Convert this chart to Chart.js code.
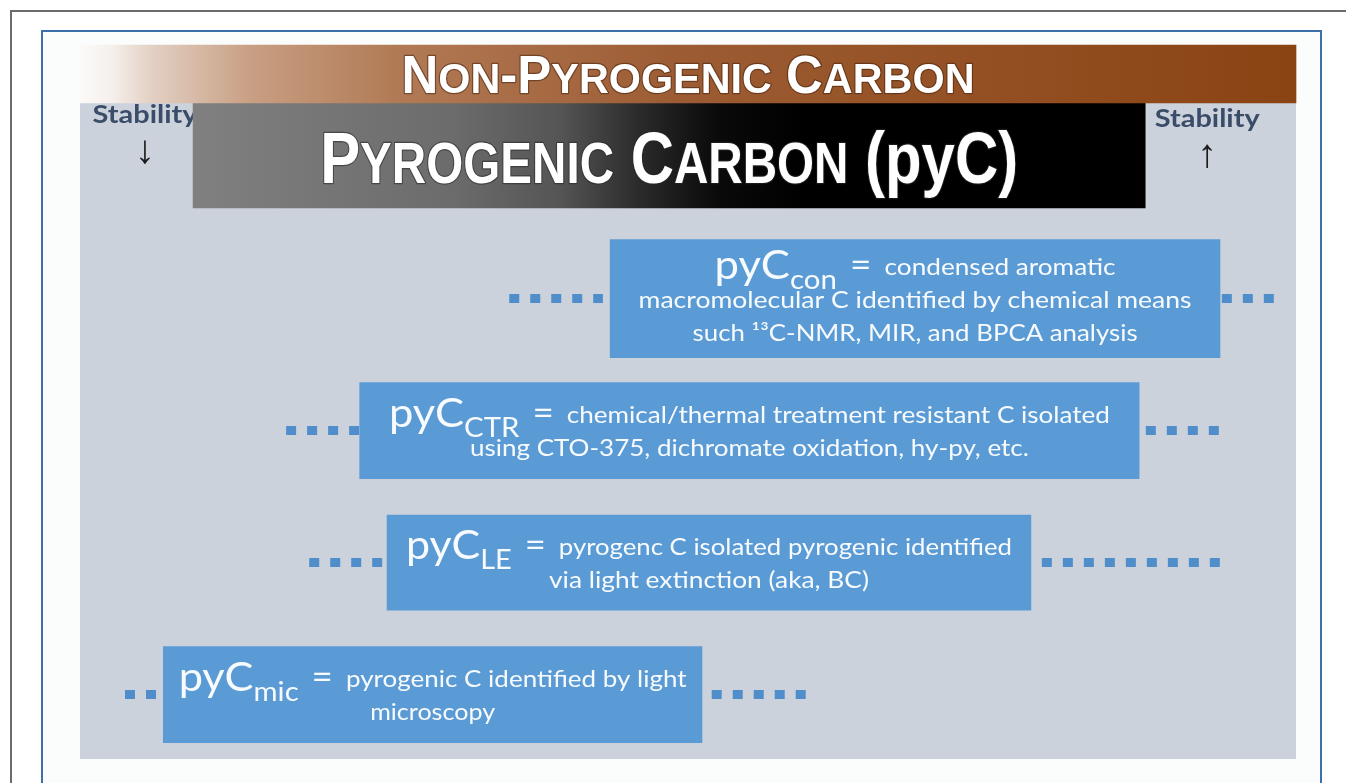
<!DOCTYPE html>
<html>
<head>
<meta charset="utf-8">
<title>Pyrogenic carbon continuum</title>
<script src="https://cdn.jsdelivr.net/npm/chart.js@4.4.1/dist/chart.umd.min.js"></script>
<style>
  html, body { margin: 0; padding: 0; background: #fff; }
  body { width: 1346px; height: 783px; overflow: hidden; position: relative; }
  .outer { position: absolute; left: 10px; top: 10px; width: 1400px; height: 800px;
           border-left: 2px solid #6b6b6b; border-top: 2px solid #6b6b6b; }
  .frame { position: absolute; left: 41px; top: 30px; width: 1277px; height: 800px;
           border: 2px solid #3d6fa9; background: #fbfdfd; }
  .panel { position: absolute; left: 80px; top: 45px; width: 1216px; height: 714px; background: #cbd2dc; }
  canvas { position: absolute; left: 0; top: 0; }
</style>
</head>
<body>
<div class="outer"></div>
<div class="frame"></div>
<div class="panel"></div>
<canvas id="head" width="1346" height="783"></canvas>
<canvas id="body" width="1346" height="783"></canvas>
<script>
// x axis = relative stability, 0 (least) .. 100 (most)
const bandLabels = ['Non-Pyrogenic Carbon', 'Pyrogenic Carbon (pyC)'];
const bandStart = [0, 9.3];
const bandEnd = [100, 87.6];

const formLabels = ['pyC_con', 'pyC_CTR', 'pyC_LE', 'pyC_mic'];
const formSub = ['con', 'CTR', 'LE', 'mic'];
const formStart = [43.6, 23.0, 25.25, 6.85];
const formEnd = [93.75, 87.1, 78.2, 51.15];
const formText = [
  ['condensed aromatic', 'macromolecular C identified by chemical means', 'such \u00b9\u00b3C-NMR, MIR, and BPCA analysis'],
  ['chemical/thermal treatment resistant C isolated', 'using CTO-375, dichromate oxidation, hy-py, etc.'],
  ['pyrogenc C isolated pyrogenic identified', 'via light extinction (aka, BC)'],
  ['pyrogenic C identified by light', 'microscopy']
];

// dotted extensions left and right of each box
const dotsLeftStart = [35.3, 16.95, 18.85, 3.7];
const dotsLeftEnd = [43.0, 22.95, 24.85, 6.25];
const dotsRightStart = [93.9, 87.65, 79.1, 51.95];
const dotsRightEnd = [98.2, 93.65, 93.75, 59.7];

const stabilityLabels = ['Stability', 'Stability'];
const stabilityArrows = ['\u2193', '\u2191'];
const stabilityAt = [5.35, 92.7];

// styling
const bandThickness = [58, 105];
const formThickness = [118, 96, 95, 96];
const lineWidths = [[401, 553, 445], [721, 559], [606, 320], [508, 125]];
const titleWidths = [573, 698];
const boxBlue = '#5b9bd5';
const dotBlue = '#4f8dcb';
const textFont = 'Lato, "Open Sans", sans-serif';
const titleFont = '"Liberation Sans Narrow", "Liberation Sans", Arial, sans-serif';

function drawRuns(ctx, runs, cx, baseline, width, family, color, stroke) {
  ctx.save();
  let total = 0;
  runs.forEach(r => {
    ctx.font = `${r.weight || 'normal'} ${r.size}px ${family}`;
    r.w = ctx.measureText(r.t).width;
    total += r.w + (r.padL || 0) + (r.padR || 0);
  });
  const sx = width / total;
  ctx.translate(cx - width / 2, baseline);
  ctx.scale(sx, 1);
  ctx.textAlign = 'left';
  ctx.textBaseline = 'alphabetic';
  let x = 0;
  runs.forEach(r => {
    x += r.padL || 0;
    ctx.font = `${r.weight || 'normal'} ${r.size}px ${family}`;
    if (stroke) {
      ctx.lineJoin = 'round';
      ctx.lineWidth = 2.5;
      ctx.strokeStyle = stroke;
      ctx.strokeText(r.t, x, r.dy || 0);
    }
    ctx.fillStyle = color;
    ctx.fillText(r.t, x, r.dy || 0);
    x += r.w + (r.padR || 0);
  });
  ctx.restore();
}

// small caps: lowercase letters drawn as smaller capitals; text in brackets kept as is
function smallCaps(text, big, small) {
  const runs = [];
  const cut = text.indexOf('(');
  const head = cut >= 0 ? text.slice(0, cut) : text;
  for (const ch of head) {
    const isSmall = ch !== ch.toUpperCase();
    const size = isSmall ? small : big;
    const last = runs[runs.length - 1];
    if (last && last.size === size) last.t += ch.toUpperCase();
    else runs.push({ t: ch.toUpperCase(), size, weight: 'bold' });
  }
  if (cut >= 0) runs.push({ t: text.slice(cut), size: big, weight: 'bold' });
  return runs;
}

function bandGradient(c, i) {
  const chart = c.chart;
  if (!chart.chartArea) return i === 0 ? '#9a5a30' : '#333';
  const xs = chart.scales.x;
  const g = chart.ctx.createLinearGradient(xs.getPixelForValue(bandStart[i]), 0, xs.getPixelForValue(bandEnd[i]), 0);
  if (i === 0) {
    g.addColorStop(0, '#fbfaf9');
    g.addColorStop(0.025, '#f6f0ec');
    g.addColorStop(0.06, '#e2cfc2');
    g.addColorStop(0.14, '#c89f83');
    g.addColorStop(0.26, '#b17a55');
    g.addColorStop(0.5, '#9c5b32');
    g.addColorStop(0.76, '#934f22');
    g.addColorStop(1, '#8a4313');
  } else {
    g.addColorStop(0, '#808080');
    g.addColorStop(0.27, '#6c6c6c');
    g.addColorStop(0.385, '#555555');
    g.addColorStop(0.47, '#2a2a2a');
    g.addColorStop(0.55, '#0a0a0a');
    g.addColorStop(0.64, '#000000');
    g.addColorStop(1, '#000000');
  }
  return g;
}

/* ===== header: the two carbon bands ===== */
const headPlugin = {
  id: 'headText',
  beforeDatasetsDraw(chart) {
    const ctx = chart.ctx;
    const xs = chart.scales.x;
    const yPyc = chart.scales.y.getPixelForValue(1);
    const labelDy = [-33, -29];
    const arrowDy = [-4, 0];
    stabilityLabels.forEach((lab, i) => {
      const cx = xs.getPixelForValue(stabilityAt[i]);
      drawRuns(ctx, [{ t: lab, size: 25, weight: 'bold' }], cx, yPyc + labelDy[i], 105, textFont, '#3b4c69');
      ctx.save();
      ctx.font = '40px "Liberation Sans", "DejaVu Sans", sans-serif';
      ctx.fillStyle = '#1c1c1c';
      ctx.textAlign = 'center';
      ctx.textBaseline = 'middle';
      ctx.fillText(stabilityArrows[i], cx, yPyc + arrowDy[i]);
      ctx.restore();
    });
  },
  afterDatasetsDraw(chart) {
    const ctx = chart.ctx;
    const sizes = [[53, 43], [73, 58]];
    const dy = [19, 27.5];
    const strokes = ['rgba(70,35,15,0.55)', 'rgba(40,40,40,0.6)'];
    bandLabels.forEach((name, i) => {
      const bar = chart.getDatasetMeta(i).data[i];
      const { x, base, y } = bar.getProps(['x', 'base', 'y'], true);
      const runs = smallCaps(name, sizes[i][0], sizes[i][1]);
      drawRuns(ctx, runs, (x + base) / 2, y + dy[i], titleWidths[i], titleFont, '#ffffff', strokes[i]);
    });
  }
};

new Chart(document.getElementById('head'), {
  type: 'bar',
  data: {
    labels: bandLabels,
    datasets: bandLabels.map((name, i) => ({
      label: name,
      data: bandLabels.map((_, j) => (j === i ? [bandStart[i], bandEnd[i]] : null)),
      backgroundColor: c => bandGradient(c, i),
      borderWidth: 0,
      barThickness: bandThickness[i],
      grouped: false,
      clip: false
    }))
  },
  options: {
    indexAxis: 'y',
    responsive: false,
    animation: false,
    layout: { padding: { left: 80, right: 50, top: 33.25, bottom: 586.75 } },
    scales: {
      x: { type: 'linear', min: 0, max: 100, display: false },
      y: { type: 'category', display: false }
    },
    plugins: { legend: { display: false }, tooltip: { enabled: false } }
  },
  plugins: [headPlugin]
});

/* ===== body: the four pyC forms ===== */
const bodyDatasets = formLabels.map((name, i) => ({
  label: name,
  data: formLabels.map((_, j) => (j === i ? [formStart[i], formEnd[i]] : null)),
  backgroundColor: boxBlue,
  borderWidth: 0,
  barThickness: formThickness[i],
  grouped: false,
  clip: false,
  order: 1
}));

formLabels.forEach((name, i) => {
  [[dotsLeftStart[i], dotsLeftEnd[i]], [dotsRightStart[i], dotsRightEnd[i]]].forEach(([a, b]) => {
    bodyDatasets.push({
      type: 'line',
      indexAxis: 'y',
      label: name + ' dots',
      data: [{ x: a, y: name }, { x: b, y: name }],
      borderColor: dotBlue,
      borderWidth: 9,
      borderDash: [10, 11],
      borderCapStyle: 'butt',
      pointRadius: 0,
      fill: false,
      order: 2
    });
  });
});

const formTextPlugin = {
  id: 'formText',
  afterDatasetsDraw(chart) {
    const ctx = chart.ctx;
    formLabels.forEach((name, i) => {
      const bar = chart.getDatasetMeta(i).data[i];
      const { x, base, y } = bar.getProps(['x', 'base', 'y'], true);
      const cx = (x + base) / 2;
      const lines = formText[i];
      const n = lines.length;
      lines.forEach((txt, k) => {
        const baseline = y + 9 + (k - (n - 1) / 2) * 33;
        const runs = k === 0
          ? [
              { t: 'pyC', size: 40, dy: 4 },
              { t: formSub[i], size: 27, dy: 14 },
              { t: '=', size: 34, dy: 2, padL: 12, padR: 12 },
              { t: txt, size: 24 }
            ]
          : [{ t: txt, size: 24 }];
        drawRuns(ctx, runs, cx, baseline, lineWidths[i][k], textFont, '#f8fbfe');
      });
    });
  }
};

new Chart(document.getElementById('body'), {
  type: 'bar',
  data: { labels: formLabels, datasets: bodyDatasets },
  options: {
    indexAxis: 'y',
    responsive: false,
    animation: false,
    layout: { padding: { left: 80, right: 50, top: 232.6, bottom: 22.4 } },
    scales: {
      x: { type: 'linear', min: 0, max: 100, display: false },
      y: { type: 'category', display: false }
    },
    plugins: { legend: { display: false }, tooltip: { enabled: false } }
  },
  plugins: [formTextPlugin]
});
</script>
</body>
</html>
